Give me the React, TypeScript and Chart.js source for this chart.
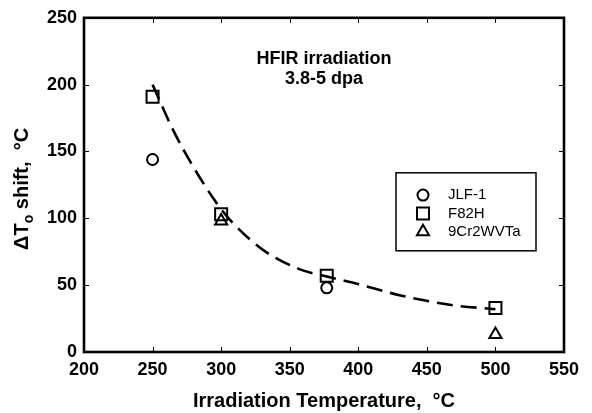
import React, { useEffect, useRef } from 'react';
import { Chart, registerables } from 'chart.js';

Chart.register(...registerables);

// ---------- data ----------
const seriesNames = ['JLF-1', 'F82H', '9Cr2WVTa'];
const jlfTemps = [250, 377];
const jlfShift = [144, 48];
const f82hTemps = [250, 300, 377, 500];
const f82hShift = [191, 103, 57, 33];
const cr2Temps = [300, 500];
const cr2Shift = [98, 13];
const fitTemps = [250, 265, 280, 297, 309, 331, 357, 377, 399, 430, 469, 500];
const fitShift = [200, 166, 138, 111, 96, 76, 62, 56.5, 51, 42.5, 35, 32];
const xTickValues = [200, 250, 300, 350, 400, 450, 500, 550];
const yTickValues = [0, 50, 100, 150, 200, 250];
const annotationLines = ['HFIR irradiation', '3.8-5 dpa'];
const annotationAt = { x: 375, y: 215.3 };
const xTitle = 'Irradiation Temperature,  °C';
const yTitleParts = ['ΔT', 'o', ' shift,  °C'];

const FONT = '"Liberation Sans", Arial, Helvetica, sans-serif';

const toPts = (xs: number[], ys: number[]) => xs.map((x, i) => ({ x, y: ys[i] }));

function drawMarker(ctx: CanvasRenderingContext2D, style: string, x: number, y: number) {
  ctx.beginPath();
  if (style === 'circle') {
    ctx.arc(x, y, 5.5, 0, Math.PI * 2);
  } else if (style === 'rect') {
    ctx.rect(x - 6, y - 6, 12, 12);
  } else {
    const r = 7;
    for (let k = 0; k < 3; k++) {
      const a = (k * 2 * Math.PI) / 3;
      const px = x + Math.sin(a) * r;
      const py = y - Math.cos(a) * r;
      if (k === 0) ctx.moveTo(px, py);
      else ctx.lineTo(px, py);
    }
    ctx.closePath();
  }
  ctx.stroke();
}

const decorPlugin = {
  id: 'decor',
  afterDraw(chart: any) {
    const { ctx, chartArea: a, scales } = chart;
    const xs = scales.x;
    const ys = scales.y;
    ctx.save();
    ctx.strokeStyle = '#000';
    ctx.fillStyle = '#000';
    // inward tick marks on all four sides
    ctx.lineWidth = 1;
    ctx.beginPath();
    xTickValues.slice(1, -1).forEach((v) => {
      const px = Math.round(xs.getPixelForValue(v)) + 0.5;
      ctx.moveTo(px, a.bottom);
      ctx.lineTo(px, a.bottom - 5);
      ctx.moveTo(px, a.top);
      ctx.lineTo(px, a.top + 5);
    });
    yTickValues.slice(1, -1).forEach((v) => {
      const py = Math.round(ys.getPixelForValue(v)) + 0.5;
      ctx.moveTo(a.left, py);
      ctx.lineTo(a.left + 5, py);
      ctx.moveTo(a.right, py);
      ctx.lineTo(a.right - 5, py);
    });
    ctx.stroke();
    // frame
    ctx.lineWidth = 2.6;
    ctx.strokeRect(a.left, a.top, a.right - a.left, a.bottom - a.top);

    // annotation
    ctx.font = `bold 18px ${FONT}`;
    ctx.textAlign = 'center';
    ctx.textBaseline = 'alphabetic';
    const ax = xs.getPixelForValue(annotationAt.x);
    const ay = ys.getPixelForValue(annotationAt.y);
    annotationLines.forEach((t, i) => ctx.fillText(t, ax, ay + i * 20));

    // legend
    const bx = a.left + 312;
    const by = a.top + 155;
    ctx.lineWidth = 1.5;
    ctx.strokeRect(bx, by, 140, 78);
    const styles = ['circle', 'rect', 'triangle'];
    ctx.font = `15px ${FONT}`;
    ctx.textAlign = 'left';
    ctx.textBaseline = 'middle';
    seriesNames.forEach((name, i) => {
      const cy = by + 22.3 + i * 18.3;
      ctx.lineWidth = 2;
      drawMarker(ctx, styles[i], bx + 27, cy);
      ctx.fillText(name, bx + 52, cy);
    });

    // y title with subscript
    ctx.translate(21, (a.top + a.bottom) / 2 + 4);
    ctx.rotate(-Math.PI / 2);
    const big = `bold 20px ${FONT}`;
    const small = `bold 14px ${FONT}`;
    ctx.font = big;
    const w0 = ctx.measureText(yTitleParts[0]).width;
    const w2 = ctx.measureText(yTitleParts[2]).width;
    ctx.font = small;
    const w1 = ctx.measureText(yTitleParts[1]).width;
    let sx = -(w0 + w1 + w2) / 2;
    ctx.textAlign = 'left';
    ctx.textBaseline = 'alphabetic';
    ctx.font = big;
    ctx.fillText(yTitleParts[0], sx, 7);
    sx += w0;
    ctx.font = small;
    ctx.fillText(yTitleParts[1], sx, 12);
    sx += w1;
    ctx.font = big;
    ctx.fillText(yTitleParts[2], sx, 7);
    ctx.restore();
  },
};

export default function App() {
  const ref = useRef<HTMLCanvasElement | null>(null);
  useEffect(() => {
    document.body.style.margin = '0';
    const canvas = ref.current!;
    const markerBase = {
      showLine: false,
      borderColor: '#000',
      backgroundColor: 'rgba(0,0,0,0)',
      pointBorderWidth: 2,
      pointBackgroundColor: 'rgba(0,0,0,0)',
      pointBorderColor: '#000',
    };
    const tickFont = { family: FONT, size: 18, weight: 'bold' as const };
    const chart = new Chart(canvas, {
      type: 'scatter',
      data: {
        datasets: [
          {
            label: 'fit',
            data: toPts(fitTemps, fitShift),
            showLine: true,
            borderColor: '#000',
            borderWidth: 2.6,
            borderDash: [16, 8],
            pointRadius: 0,
            cubicInterpolationMode: 'monotone',
            fill: false,
          } as any,
          { ...markerBase, label: seriesNames[0], data: toPts(jlfTemps, jlfShift), pointStyle: 'circle', pointRadius: 5.5 },
          { ...markerBase, label: seriesNames[1], data: toPts(f82hTemps, f82hShift), pointStyle: 'rect', pointRadius: 8.5 },
          { ...markerBase, label: seriesNames[2], data: toPts(cr2Temps, cr2Shift), pointStyle: 'triangle', pointRadius: 7 },
        ],
      },
      options: {
        animation: false,
        responsive: false,
        devicePixelRatio: 1,
        layout: { padding: { top: 16, right: 28, left: 0, bottom: 0 } },
        plugins: { legend: { display: false }, tooltip: { enabled: false } },
        scales: {
          x: {
            type: 'linear',
            min: 200,
            max: 550,
            ticks: { stepSize: 50, font: tickFont, color: '#000', padding: 7, maxRotation: 0, autoSkip: false },
            grid: { display: false, drawTicks: false },
            border: { display: false },
            title: {
              display: true,
              text: xTitle,
              font: { family: FONT, size: 20, weight: 'bold' },
              color: '#000',
              padding: { top: 0, bottom: 0 },
            },
            afterFit(s: any) {
              s.height = 61;
            },
          },
          y: {
            type: 'linear',
            min: 0,
            max: 250,
            ticks: { stepSize: 50, font: tickFont, color: '#000', padding: 7 },
            grid: { display: false, drawTicks: false },
            border: { display: false },
            afterFit(s: any) {
              s.width = 84;
            },
          },
        },
      },
      plugins: [decorPlugin],
    });
    return () => chart.destroy();
  }, []);
  return <canvas ref={ref} width={592} height={413} style={{ display: 'block' }} />;
}
